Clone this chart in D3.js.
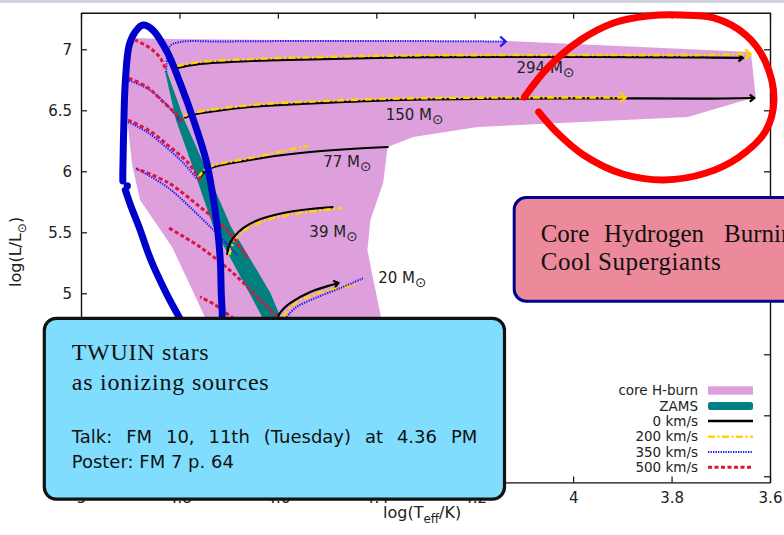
<!DOCTYPE html>
<html><head><meta charset="utf-8">
<script src="https://cdn.jsdelivr.net/npm/d3@7"></script>
<style>
html,body{margin:0;padding:0;background:#fff;}
svg{display:block;font-family:"DejaVu Sans",sans-serif;}
.mass-lbl{font-size:15px;fill:#222;}
.leg{font-size:13.5px;fill:#222;}
.serif{font-family:"Liberation Serif",serif;fill:#111;}
.sans{font-family:"DejaVu Sans",sans-serif;fill:#111;}
</style></head><body>
<svg id="c" width="784" height="535"></svg>
<script>
/* HRD of rotating massive stars (log Teff, log L) with two hand-drawn call-outs on top. */

// ── data: [log Teff, log L] ───────────────────────────────────────────────
const masses = [294, 150, 77, 39, 20];
const massLabelPos = [[4.115, 6.806], [4.381, 6.420], [4.508, 6.038], [4.536, 5.459], [4.396, 5.082]];

const hburn = [[4.894,7.093],[4.825,7.084],[4.554,7.076],[4.137,7.068],[3.639,6.978],[3.629,6.609],[3.767,6.445],
  [4.194,6.363],[4.325,6.281],[4.377,6.199],[4.386,5.904],[4.412,5.601],[4.418,5.355],[4.406,5.109],[4.392,4.839],
  [4.381,4.453],[4.392,3.961],[4.554,3.879],[4.656,4.125],[4.727,4.617],[4.758,4.889],[4.815,5.380],[4.880,5.765],
  [4.896,6.052],[4.906,6.420],[4.906,6.912]];

const zamsHot  = [[4.829,6.814],[4.807,6.420],[4.778,6.093],[4.731,5.544],[4.658,5.003],[4.632,4.806],[4.575,4.577]];
const zamsCool = [[4.825,6.814],[4.790,6.420],[4.754,6.093],[4.695,5.544],[4.615,5.003],[4.595,4.806],[4.544,4.577]];

// one track per mass, same order as `masses`
const v0 = [
  [[4.805,6.847],[4.758,6.880],[4.656,6.904],[4.554,6.916],[4.351,6.933],[4.148,6.937],[3.944,6.937],[3.741,6.933],[3.655,6.929]],
  [[4.790,6.437],[4.774,6.461],[4.656,6.527],[4.554,6.552],[4.392,6.580],[4.148,6.595],[3.944,6.598],[3.741,6.595],[3.632,6.601]],
  [[4.762,5.929],[4.744,6.011],[4.656,6.093],[4.554,6.150],[4.453,6.183],[4.375,6.199]],
  [[4.703,5.314],[4.699,5.396],[4.689,5.462],[4.670,5.536],[4.640,5.601],[4.589,5.658],[4.534,5.691],[4.487,5.707]],
  [[4.601,4.806],[4.589,4.871],[4.575,4.920],[4.534,5.011],[4.477,5.084]]
];
const v200 = [
  [[4.805,6.863],[4.758,6.896],[4.656,6.920],[4.554,6.933],[4.351,6.949],[4.148,6.953],[3.944,6.953],[3.741,6.953],[3.639,6.961]],
  [[4.790,6.453],[4.774,6.478],[4.656,6.543],[4.554,6.568],[4.392,6.593],[4.148,6.605],[3.893,6.605]],
  [[4.762,5.945],[4.744,6.027],[4.656,6.109],[4.538,6.207]],
  [[4.699,5.314],[4.693,5.388],[4.681,5.470],[4.656,5.544],[4.615,5.609],[4.554,5.658],[4.469,5.699]],
  [[4.589,4.806],[4.571,4.896],[4.534,4.978],[4.493,5.027],[4.436,5.076]]
];
const v350 = [
  [[4.827,6.814],[4.825,6.929],[4.819,7.027],[4.799,7.060],[4.717,7.064],[4.554,7.068],[4.351,7.068],[4.137,7.064]],
  [[4.799,6.412],[4.805,6.445],[4.825,6.543],[4.860,6.666],[4.904,6.748]],
  [[4.766,5.945],[4.792,6.068],[4.825,6.191],[4.866,6.322],[4.904,6.404]],
  [[4.683,5.314],[4.717,5.462],[4.758,5.626],[4.825,5.871],[4.890,6.027]],
  [[4.585,4.790],[4.565,4.879],[4.524,4.961],[4.473,5.043],[4.426,5.125]]
];
const v500 = [
  [[4.829,6.847],[4.839,6.929],[4.860,7.011],[4.890,7.076]],
  [[4.795,6.412],[4.805,6.461],[4.833,6.568],[4.866,6.691],[4.904,6.765]],
  [[4.758,5.929],[4.784,6.076],[4.819,6.199],[4.860,6.330],[4.904,6.420]],
  [[4.662,5.289],[4.703,5.519],[4.758,5.707],[4.825,5.912],[4.886,6.019]],
  [[4.601,4.806],[4.636,4.945],[4.691,5.166],[4.758,5.379],[4.825,5.544]],
  [[4.656,4.699],[4.697,4.814],[4.727,4.904],[4.758,4.970]]
];
// which masses end in an arrow head, per velocity
const arrows = { 0: [294, 150, 20], 200: [294, 150], 350: [294], 500: [] };

const xTicks = [5, 4.8, 4.6, 4.4, 4.2, 4, 3.8, 3.6];
const yTicks = [3.5, 4, 4.5, 5, 5.5, 6, 6.5, 7];
const legendLabels = ["core H-burn", "ZAMS", "0 km/s", "200 km/s", "350 km/s", "500 km/s"];

// hand-drawn call-outs, also in data units
const blueLoop = [[4.910,5.847],[4.898,5.707],[4.882,5.544],[4.858,5.273],[4.827,5.003],[4.801,4.806],[4.774,4.601],
  [4.744,4.503],[4.719,4.568],[4.715,4.699],[4.713,4.806],[4.715,5.003],[4.717,5.273],[4.723,5.544],[4.733,5.822],
  [4.746,6.093],[4.770,6.404],[4.797,6.707],[4.825,6.978],[4.854,7.158],[4.874,7.199],[4.890,7.142],[4.902,7.035],
  [4.910,6.732],[4.913,6.379],[4.915,5.994],[4.915,5.921]];
const blueDot = [4.906, 5.880];
const redLoop = [[4.099,6.609],[4.052,6.847],[3.985,7.076],[3.918,7.216],[3.848,7.273],[3.781,7.281],[3.714,7.257],
  [3.649,7.117],[3.610,6.904],[3.592,6.584],[3.610,6.322],[3.663,6.117],[3.730,5.986],[3.816,5.929],[3.899,5.978],
  [3.979,6.134],[4.034,6.322],[4.070,6.486]];

const talkWords = ["Talk:", "FM", "10,", "11th", "(Tuesday)", "at", "4.36", "PM"];

// ── setup ─────────────────────────────────────────────────────────────────
const svg = d3.select("#c");
const x = d3.scaleLinear().domain([5, 3.6]).range([81, 770]);
const y = d3.scaleLinear().domain([3.45, 7.3]).range([482.4, 12.7]);
const X0 = x.range()[0], X1 = x.range()[1], Y0 = y.range()[0], Y1 = y.range()[1];
const smooth = d3.line().x(d => x(d[0])).y(d => y(d[1])).curve(d3.curveCatmullRom.alpha(0.5));
const poly = d3.line().x(d => x(d[0])).y(d => y(d[1])).curve(d3.curveLinearClosed);

const STY = {
  0:   { color: "#000",    w: 2.2, dash: null },
  200: { color: "#ffd400", w: 2.6, dash: "7,2.5,2,2.5" },
  350: { color: "#1414ff", w: 2,   dash: "1.3,1.2" },
  500: { color: "#dc143c", w: 3,   dash: "4,2.5" },
};

// screen-capture strip at the very top
svg.append("rect").attr("x", 0).attr("y", 0).attr("width", 784).attr("height", 3).attr("fill", "#d2d4df");

const defs = svg.append("defs");
Object.entries(STY).forEach(([v, s]) => {
  defs.append("marker").attr("id", "arr" + v).attr("markerUnits", "userSpaceOnUse")
    .attr("viewBox", "-8 -7 10 14").attr("refX", 0).attr("refY", 0).attr("markerWidth", 10).attr("markerHeight", 14)
    .attr("orient", "auto").style("overflow", "visible")
    .append("path").attr("d", v === "0" ? "M-4.5,-3.5L0,0L-4.5,3.5" : "M-5.5,-5L0,0L-5.5,5")
    .attr("fill", "none").attr("stroke", s.color).attr("stroke-width", 2.2);
});

// core H-burning region + ZAMS band
svg.append("path").attr("d", poly(hburn)).attr("fill", "#dda0dd");
svg.append("path").attr("d", poly(zamsHot.concat(zamsCool.slice().reverse()))).attr("fill", "#008080");

// tracks: 0, 200, 350, 500 km/s (later ones drawn on top)
[[0, v0], [200, v200], [350, v350], [500, v500]].forEach(([v, set]) => {
  const s = STY[v];
  svg.append("g").selectAll("path").data(set).join("path")
    .attr("d", smooth).attr("fill", "none").attr("stroke", s.color).attr("stroke-width", s.w)
    .attr("stroke-dasharray", s.dash).attr("stroke-linejoin", "round")
    .attr("marker-end", (d, i) => arrows[v].includes(masses[i]) ? `url(#arr${v})` : null);
});

// mass labels
const ml = svg.append("g").selectAll("text").data(masses).join("text").attr("class", "mass-lbl")
  .attr("x", (d, i) => x(massLabelPos[i][0])).attr("y", (d, i) => y(massLabelPos[i][1]));
ml.append("tspan").text(d => d + " M");
ml.append("tspan").attr("dy", 4).style("font-size", "13.5px").text("\u2299");

// axes: inward ticks on all four sides, labels on left/bottom
const fmt = d => String(+d.toFixed(1));
const gx = svg.append("g").attr("transform", `translate(0,${Y0})`)
  .call(d3.axisBottom(x).tickValues(xTicks).tickFormat(fmt).tickSizeInner(-6).tickSizeOuter(0).tickPadding(10));
const gy = svg.append("g").attr("transform", `translate(${X0},0)`)
  .call(d3.axisLeft(y).tickValues(yTicks).tickFormat(fmt).tickSizeInner(-6).tickSizeOuter(0).tickPadding(9));
svg.append("g").attr("transform", `translate(0,${Y1})`)
  .call(d3.axisTop(x).tickValues(xTicks).tickFormat("").tickSizeInner(-6).tickSizeOuter(0));
svg.append("g").attr("transform", `translate(${X1},0)`)
  .call(d3.axisRight(y).tickValues(yTicks).tickFormat("").tickSizeInner(-6).tickSizeOuter(0));
svg.selectAll(".domain").attr("stroke", "#111").attr("stroke-width", 1.4);
svg.selectAll(".tick line").attr("stroke", "#111").attr("stroke-width", 1.2);
[gx, gy].forEach(g => g.selectAll("text").attr("font-size", 15).attr("font-family", "DejaVu Sans").attr("fill", "#222"));

// axis titles
const xt = svg.append("text").attr("x", 383).attr("y", 518).attr("font-size", 16).attr("fill", "#222");
xt.append("tspan").text("log(T");
xt.append("tspan").attr("dy", 5).attr("font-size", 12).text("eff");
xt.append("tspan").attr("dy", -5).text("/K)");
const yt = svg.append("text").attr("transform", "translate(21,287) rotate(-90)").attr("font-size", 16).attr("fill", "#222");
yt.append("tspan").text("log(L/L");
yt.append("tspan").attr("dy", 5).attr("font-size", 12).text("\u2299");
yt.append("tspan").attr("dy", -5).text(")");

// legend
const legY = [390.5, 406, 421, 436.7, 452, 467.3];
const lg = svg.append("g");
lg.selectAll("text").data(legendLabels).join("text").attr("class", "leg")
  .attr("x", 698).attr("y", (d, i) => legY[i] + 4.5).attr("text-anchor", "end").text(d => d);
lg.append("rect").attr("x", 708).attr("y", legY[0] - 4.2).attr("width", 45).attr("height", 8.4).attr("fill", "#dda0dd");
lg.append("rect").attr("x", 708).attr("y", legY[1] - 4).attr("width", 45).attr("height", 8).attr("rx", 2.5).attr("fill", "#008080");
[0, 200, 350, 500].forEach((v, k) => {
  const s = STY[v];
  lg.append("line").attr("x1", 708).attr("x2", 753).attr("y1", legY[k + 2]).attr("y2", legY[k + 2])
    .attr("stroke", s.color).attr("stroke-width", v === 0 ? 2.5 : s.w).attr("stroke-dasharray", s.dash);
});

// hand-drawn call-outs
svg.append("path").attr("d", smooth(blueLoop)).attr("fill", "none").attr("stroke", "#0000cc")
  .attr("stroke-width", 7).attr("stroke-linecap", "round").attr("stroke-linejoin", "round");
svg.append("circle").attr("cx", x(blueDot[0])).attr("cy", y(blueDot[1])).attr("r", 3.6).attr("fill", "#0000cc");
svg.append("path").attr("d", smooth(redLoop)).attr("fill", "none").attr("stroke", "#ff0000")
  .attr("stroke-width", 7).attr("stroke-linecap", "round").attr("stroke-linejoin", "round");

// pink note box (runs off the right edge, as in the original slide)
svg.append("rect").attr("x", 514.2).attr("y", 197.6).attr("width", 300).attr("height", 103.6).attr("rx", 12)
  .attr("fill", "#ec8a9b").attr("stroke", "#00008f").attr("stroke-width", 3);
const pt = svg.append("text").attr("class", "serif").attr("font-size", 25).attr("y", 241.7);
[["Core", 540.7], ["Hydrogen", 604], ["Burning", 724]].forEach(([w, px]) => pt.append("tspan").attr("x", px).text(w));
svg.append("text").attr("class", "serif").attr("font-size", 25).attr("x", 540.7).attr("y", 270)
  .attr("textLength", 180).attr("lengthAdjust", "spacing").text("Cool Supergiants");

// cyan note box
svg.append("rect").attr("x", 44.3).attr("y", 318.3).attr("width", 460.2).attr("height", 180.8).attr("rx", 12)
  .attr("fill", "#80ddfd").attr("stroke", "#111").attr("stroke-width", 3.2);
svg.append("text").attr("class", "serif").attr("font-size", 24).attr("x", 71.7).attr("y", 360)
  .attr("textLength", 137).attr("lengthAdjust", "spacing").text("TWUIN stars");
svg.append("text").attr("class", "serif").attr("font-size", 24).attr("x", 71.7).attr("y", 390)
  .attr("textLength", 197).attr("lengthAdjust", "spacing").text("as ionizing sources");
// justified line: spread words between the box margins
const tk = svg.append("text").attr("class", "sans").attr("font-size", 18).attr("y", 442.7);
const tw = tk.selectAll("tspan").data(talkWords).join("tspan").text(d => d);
const widths = tw.nodes().map(n => n.getComputedTextLength());
const gap = (477.3 - 71.7 - d3.sum(widths)) / (talkWords.length - 1);
let cx = 71.7;
tw.attr("x", (d, i) => { const p = cx; cx += widths[i] + gap; return p; });
svg.append("text").attr("class", "sans").attr("font-size", 18).attr("x", 71.7).attr("y", 468.3).text("Poster: FM 7 p. 64");
</script>
</body></html>
